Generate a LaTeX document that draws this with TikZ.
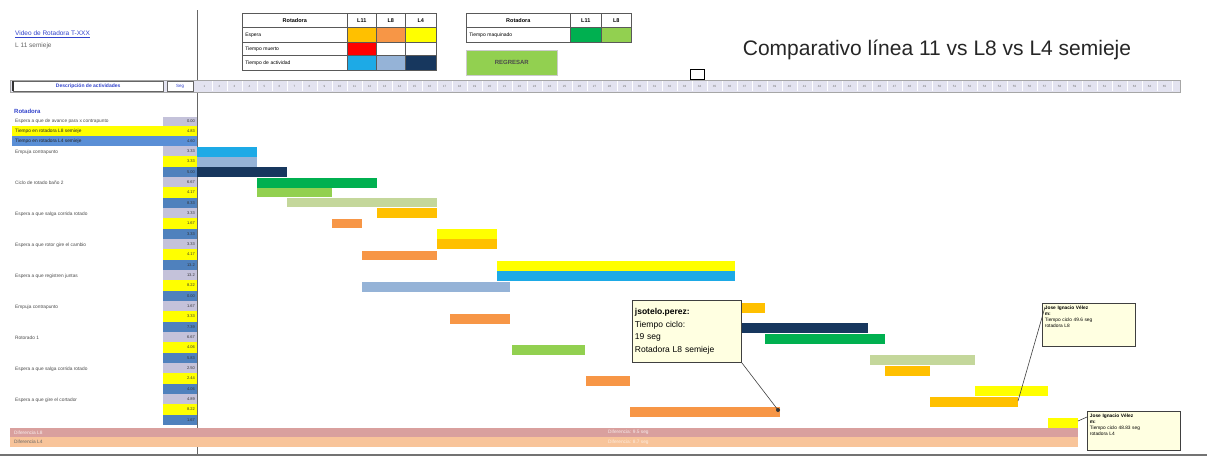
\documentclass[tikz,border=0pt]{standalone}
\usepackage{fontspec}
\setmainfont{Liberation Sans}
\definecolor{gold}{HTML}{FFC000}
\definecolor{orng}{HTML}{F79646}
\definecolor{yell}{HTML}{FFFF00}
\definecolor{lblue}{HTML}{1DAAE6}
\definecolor{steel}{HTML}{95B3D7}
\definecolor{navy}{HTML}{17375E}
\definecolor{grn}{HTML}{00B050}
\definecolor{lgrn}{HTML}{92D050}
\definecolor{pgrn}{HTML}{C4D79B}
\definecolor{redc}{HTML}{FF0000}
\definecolor{pinkb}{HTML}{D9A09E}
\definecolor{peach}{HTML}{F8C49A}
\definecolor{lav}{HTML}{C4C2DA}
\definecolor{segblue}{HTML}{4F81BD}
\definecolor{hiblue}{HTML}{5A8FD6}
\definecolor{hdr}{HTML}{E3E3F0}
\definecolor{tipyellow}{HTML}{FFFFE1}
\definecolor{linkblue}{HTML}{3344CC}
\tikzset{
  lbl/.style={anchor=west, inner sep=0pt, font=\fontsize{4.8}{5}\selectfont, text=black!70},
  segnum/.style={anchor=east, inner sep=0pt, font=\fontsize{4}{5}\selectfont, text=black!80},
  cell/.style={draw=black!65, line width=0.6pt, anchor=north west, inner sep=1pt, font=\fontsize{5}{6}\selectfont},
  hcell/.style={cell, font=\fontsize{5.5}{6}\bfseries\selectfont},
  tick/.style={inner sep=0pt, font=\fontsize{3}{3}\selectfont, text=black!55},
  tip/.style={draw=black!75, fill=tipyellow, line width=0.9pt, anchor=north west, align=left, inner sep=2.5pt},
  conn/.style={draw=black!75, line width=0.6pt},
}
\begin{document}
\begin{tikzpicture}[x=1pt,y=-1pt]
\useasboundingbox[fill=white] (0,0) rectangle (1207,458);

% top-left texts
\node[anchor=west, inner sep=0pt, font=\fontsize{6.5}{7}\selectfont, text=linkblue] (video) at (15,34) {\underline{Video de Rotadora T-XXX}};
\node[anchor=west, inner sep=0pt, font=\fontsize{6.5}{7}\selectfont, text=black!60] (linea) at (15,46) {L 11 semieje};

% vertical separator
\draw[black!60, line width=0.8pt] (197,10) -- (197,455);

% legend table 1
\node[hcell, minimum width=105, minimum height=14] (t1h) at (242,13) {Rotadora};
\node[hcell, minimum width=29, minimum height=14] (t1h1) at (347,13) {L11};
\node[hcell, minimum width=29, minimum height=14] (t1h2) at (376,13) {L8};
\node[hcell, minimum width=31, minimum height=14] (t1h3) at (405,13) {L4};
\node[cell, minimum width=105, minimum height=15, text width=99, align=left] (t1r1) at (242,27) {Espera};
\node[cell, fill=gold, minimum width=29, minimum height=15] (t1r1a) at (347,27) {};
\node[cell, fill=orng, minimum width=29, minimum height=15] (t1r1b) at (376,27) {};
\node[cell, fill=yell, minimum width=31, minimum height=15] (t1r1c) at (405,27) {};
\node[cell, minimum width=105, minimum height=13, text width=99, align=left] (t1r2) at (242,42) {Tiempo muerto};
\node[cell, fill=redc, minimum width=29, minimum height=13] (t1r2a) at (347,42) {};
\node[cell, minimum width=29, minimum height=13] (t1r2b) at (376,42) {};
\node[cell, minimum width=31, minimum height=13] (t1r2c) at (405,42) {};
\node[cell, minimum width=105, minimum height=15, text width=99, align=left] (t1r3) at (242,55) {Tiempo de actividad};
\node[cell, fill=lblue, minimum width=29, minimum height=15] (t1r3a) at (347,55) {};
\node[cell, fill=steel, minimum width=29, minimum height=15] (t1r3b) at (376,55) {};
\node[cell, fill=navy, minimum width=31, minimum height=15] (t1r3c) at (405,55) {};

% legend table 2
\node[hcell, minimum width=104, minimum height=14] (t2h) at (466,13) {Rotadora};
\node[hcell, minimum width=31, minimum height=14] (t2h1) at (570,13) {L11};
\node[hcell, minimum width=30, minimum height=14] (t2h2) at (601,13) {L8};
\node[cell, minimum width=104, minimum height=15, text width=98, align=left] (t2r1) at (466,27) {Tiempo maquinado};
\node[cell, fill=grn, minimum width=31, minimum height=15] (t2r1a) at (570,27) {};
\node[cell, fill=lgrn, minimum width=30, minimum height=15] (t2r1b) at (601,27) {};

% button
\node[draw=black!20, fill=lgrn, line width=0.6pt, anchor=north west, minimum width=91, minimum height=25, font=\fontsize{6}{7}\bfseries\selectfont, text=black!70] (regresar) at (466,50) {REGRESAR};

% small square
\node[draw=black, line width=1.2pt, anchor=north west, minimum width=14, minimum height=10, inner sep=0pt] (sq) at (690,69) {};

% title
\node[inner sep=0pt, font=\fontsize{21}{24}\selectfont, text=black!85] (title) at (937,50) {Comparativo línea 11 vs L8 vs L4 semieje};

% header strip
\node[draw=black!35, fill=hdr, anchor=north west, minimum width=1170, minimum height=12, inner sep=0pt] (hstrip) at (10,80) {};
\node[draw=black!60, fill=white, anchor=north west, minimum width=150, minimum height=10, inner sep=0pt, font=\fontsize{5}{6}\bfseries\selectfont, text=linkblue] (desc) at (13,81) {Descripción de actividades};
\draw[black!80, line width=1.5pt] (desc.north west) -- (desc.south west);
\node[draw=black!60, fill=white, anchor=north west, minimum width=26, minimum height=10, inner sep=0pt, font=\fontsize{4.5}{5}\selectfont, text=linkblue] (seg) at (167,81) {Seg};
\foreach \i in {1,...,65}{
  \draw[white, line width=0.6pt] (197+15*\i,81) -- (197+15*\i,91);
  \node[tick] (tk\i) at (197+15*\i-7.5,86) {\i};
}

% left header rows
\node[anchor=west, inner sep=0pt, font=\fontsize{6}{7}\bfseries\selectfont, text=linkblue] (rot) at (14,111) {Rotadora};
\fill[lav] (163,117) rectangle (197,126);
\node[lbl] (r0) at (15,121.5) {Espera a que de avance para x contrapunto};
\node[segnum] (s0) at (195,121.5) {0.00};
\fill[yell] (12,126) rectangle (197,136);
\node[lbl, text=black!85] (r1) at (15,131) {Tiempo en rotadora L8 semieje};
\node[segnum] (s1) at (195,131) {4.83};
\fill[hiblue] (12,136) rectangle (197,146);
\node[lbl, text=black!85] (r2) at (15,141) {Tiempo en rotadora L4 semieje};
\node[segnum] (s2) at (195,141) {4.60};

% activity rows and seg column
\foreach \k/\a/\b/\c in {0/3.33/3.33/5.00, 1/6.67/4.17/8.33, 2/3.33/1.67/3.33, 3/3.33/4.17/13.2, 4/13.2/8.22/0.00, 5/1.67/3.33/7.39, 6/6.67/4.06/5.83, 7/2.50/2.44/4.06, 8/4.89/8.22/1.67}{
  \fill[lav] (163,146+31*\k) rectangle (197,156.33+31*\k);
  \fill[yell] (163,156.33+31*\k) rectangle (197,166.67+31*\k);
  \fill[segblue] (163,166.67+31*\k) rectangle (197,177+31*\k);
  \node[segnum] (sa\k) at (195,151.2+31*\k) {\a};
  \node[segnum] (sb\k) at (195,161.5+31*\k) {\b};
  \node[segnum] (sc\k) at (195,171.8+31*\k) {\c};
}
\foreach \lab [count=\k from 0] in {Empuja contrapunto, Ciclo de rotado baño 2, Espera a que salga corrida rotado, Espera a que rotor gire el cambio, Espera a que registren juntas, Empuja contrapunto, Rotorado 1, Espera a que salga corrida rotado, Espera a que gire el cortador}{
  \node[lbl] (act\k) at (15,152+31*\k) {\lab};
}

% bars
\fill[lblue] (197,147) rectangle (257,157);
\fill[steel] (197,157) rectangle (257,167);
\fill[navy] (197,167) rectangle (287,177);
\fill[grn] (257,178) rectangle (377,188);
\fill[lgrn] (257,188) rectangle (332,197);
\fill[pgrn] (287,198) rectangle (437,207);
\fill[gold] (377,208) rectangle (437,218);
\fill[orng] (332,219) rectangle (362,228);
\fill[yell] (437,229) rectangle (497,239);
\fill[gold] (437,239) rectangle (497,249);
\fill[orng] (362,251) rectangle (437,260);
\fill[yell] (497,261) rectangle (735,271);
\fill[lblue] (497,271) rectangle (735,281);
\fill[steel] (362,282) rectangle (510,292);
\fill[gold] (735,303) rectangle (765,313);
\fill[orng] (450,314) rectangle (510,324);
\fill[navy] (735,323) rectangle (868,333);
\fill[grn] (765,334) rectangle (885,344);
\fill[lgrn] (512,345) rectangle (585,355);
\fill[pgrn] (870,355) rectangle (975,365);
\fill[gold] (885,366) rectangle (930,376);
\fill[orng] (586,376) rectangle (630,386);
\fill[yell] (975,386) rectangle (1048,396);
\fill[gold] (930,397) rectangle (1018,407);
\fill[orng] (630,407) rectangle (780,417);
\fill[yell] (1048,418) rectangle (1078,428);
\coordinate (e1) at (778,410);
\coordinate (e2) at (1018,401);
\coordinate (e3) at (1078,421);

% difference bands
\fill[pinkb] (10,428) rectangle (1078,437);
\fill[peach] (10,437) rectangle (1078,447);
\node[lbl, text=white!85!pinkb] (dif8) at (14,432.5) {Diferencia L8};
\node[lbl, text=black!60] (dif4) at (14,442) {Diferencia L4};
\node[lbl, text=white!80!pinkb] (dif8v) at (608,432.5) {Diferencia: 9.5 seg};
\node[lbl, text=white!70!peach] (dif4v) at (608,442) {Diferencia: 8.7 seg};

% bottom line
\draw[black!55, line width=1.3pt] (0,455) -- (1207,455);

% callouts
\node[tip, text width=104, minimum height=62, font=\fontsize{8.5}{12.5}\selectfont] (c1) at (632,300) {\textbf{jsotelo.perez:}\\Tiempo ciclo:\\19 seg\\Rotadora L8 semieje};
\draw[conn] (c1.south east) -- (e1);
\fill[black!80] (e1) circle (2);

\node[tip, text width=88, font=\fontsize{4.8}{6}\selectfont] (c2) at (1042,303) {\textbf{Jose Ignacio Vélez}\\\textbf{m:}\\Tiempo ciclo 49.6 seg\\rotadora L8\rule[-16pt]{0pt}{0pt}};
\draw[conn] ([xshift=3pt,yshift=-4pt]c2.north west) -- (e2);

\node[tip, text width=88, font=\fontsize{4.8}{6}\selectfont] (c3) at (1087,411) {\textbf{Jose Ignacio Vélez}\\\textbf{m:}\\Tiempo ciclo 48.83 seg\\rotadora L4\rule[-12pt]{0pt}{0pt}};
\draw[conn] ([yshift=-6pt]c3.north west) -- (e3);
\end{tikzpicture}
\end{document}
